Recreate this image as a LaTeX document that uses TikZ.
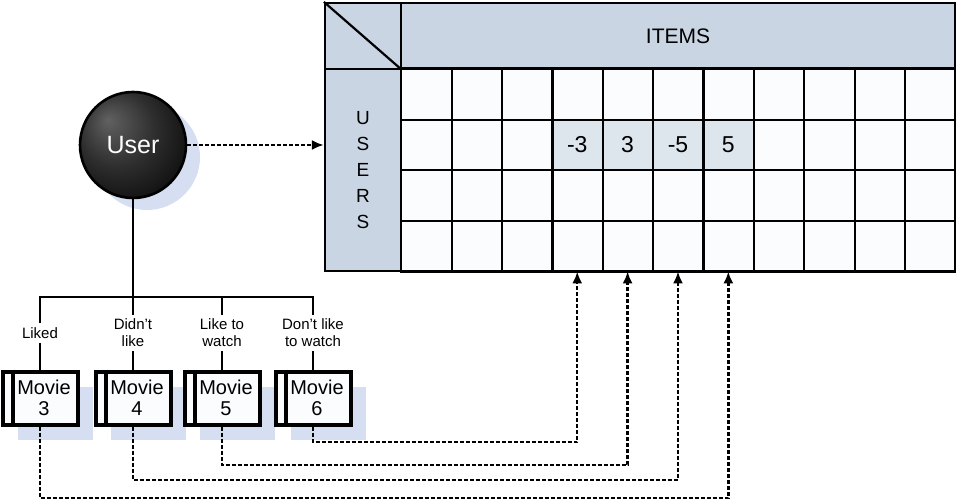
\documentclass[tikz,border=0pt]{standalone}
\usepackage{fontspec}
\setmainfont{Liberation Sans}
\usetikzlibrary{arrows.meta,shadows}
\definecolor{headblue}{RGB}{201,213,226}
\definecolor{markblue}{RGB}{221,230,237}
\definecolor{cellwhite}{RGB}{251,252,253}
\definecolor{shadowblue}{RGB}{214,222,242}
\pgfdeclareradialshading{usershade}{\pgfpoint{-12bp}{12bp}}{color(0bp)=(black!62); color(18bp)=(black!82); color(40bp)=(black); color(50bp)=(black)}

\begin{document}
\begin{tikzpicture}[x=0.5pt,y=-0.5pt,
	cell/.style={fill=cellwhite,minimum width=25.18pt,minimum height=25.25pt,inner sep=0pt,font=\fontsize{11.5}{13}\selectfont},
	header/.style={draw,line width=1.1pt,fill=headblue,inner sep=0pt},
	moviebox/.style={draw,line width=2pt,fill=cellwhite,minimum width=37.5pt,minimum height=26.5pt,inner sep=0pt,align=center,font=\fontsize{10}{10.5}\selectfont,
		drop shadow={shadow xshift=7.5pt,shadow yshift=-7.5pt,fill=shadowblue,opacity=1}},
	choice/.style={align=center,inner sep=2pt,font=\fontsize{7.5}{8.5}\selectfont},
	dasharrow/.style={line width=1.2pt,dash pattern=on 2pt off 1pt,-{Latex[length=6pt,width=5pt]}}]
	\useasboundingbox (0,0) rectangle (957,502);
	% table of users and items
	\node[header,minimum width=38pt,minimum height=33pt] (corner) at (363,36) {};
	\draw[line width=1.1pt] (corner.north west) -- (corner.south east);
	\node[header,minimum width=277pt,minimum height=33pt,font=\fontsize{10.5}{12}\selectfont] (items) at (678,36) {ITEMS};
	\node[header,minimum width=38pt,minimum height=101pt,align=center,font=\fontsize{9.5}{13}\selectfont] (users) at (363,170) {U\\S\\E\\R\\S};
	\foreach \r in {1,...,4}
		\foreach \c in {1,...,11}
			\node[cell] (cell-\r-\c) at ({401+50.36*(\c-0.5)},{69+50.5*(\r-0.5)}) {};
	\foreach \c/\v in {4/-3,5/3,6/-5,7/5}
		\node[cell,fill=markblue] at (cell-2-\c) {\v};
	\foreach \c in {1,...,10}
		\draw[line width=1.1pt] (cell-1-\c.north east) -- (cell-4-\c.south east);
	\foreach \r in {1,...,3}
		\draw[line width=1.1pt] (cell-\r-1.south west) -- (cell-\r-11.south east);
	\draw[line width=1.1pt] (cell-1-1.north west) rectangle (cell-4-11.south east);
	% user
	\node[circle,draw,line width=1.3pt,minimum size=53pt,shading=usershade,text=white,font=\fontsize{12.5}{14}\selectfont,
		drop shadow={shadow xshift=7pt,shadow yshift=-6pt,fill=shadowblue,opacity=1}] (user) at (133,145) {User};
	\draw[dasharrow] (user.east) -- (user.east -| users.west);
	\coordinate (bus) at (133,297);
	\draw[line width=1.3pt] (user.south) -- (bus);
	% movies
	\node[choice] (lab1) at (40,333) {Liked};
	\node[choice] (lab2) at (133,333) {Didn't\\like};
	\node[choice] (lab3) at (222,333) {Like to\\watch};
	\node[choice] (lab4) at (313,333) {Don't like\\to watch};
	\node[moviebox] (m1) at (40,398) {\hspace*{4pt}Movie\\\hspace*{4pt}3};
	\node[moviebox] (m2) at (133,398) {\hspace*{4pt}Movie\\\hspace*{4pt}4};
	\node[moviebox] (m3) at (222,398) {\hspace*{4pt}Movie\\\hspace*{4pt}5};
	\node[moviebox] (m4) at (313,398) {\hspace*{4pt}Movie\\\hspace*{4pt}6};
	\foreach \i in {1,...,4} {
		\draw[line width=1.3pt] (bus) -| (lab\i.north);
		\draw[line width=1.3pt] (lab\i.south) -- (m\i.north);
		\draw[line width=2pt] ([xshift=6pt]m\i.north west) -- ([xshift=6pt]m\i.south west);
	}
	% ratings into the matrix
	\foreach \i/\y/\c in {1/498/7,2/480/6,3/465/5,4/442/4}
		\draw[dasharrow] (m\i.south) |- (cell-4-\c.south |- 0,\y) -- (cell-4-\c.south);
\end{tikzpicture}
\end{document}
